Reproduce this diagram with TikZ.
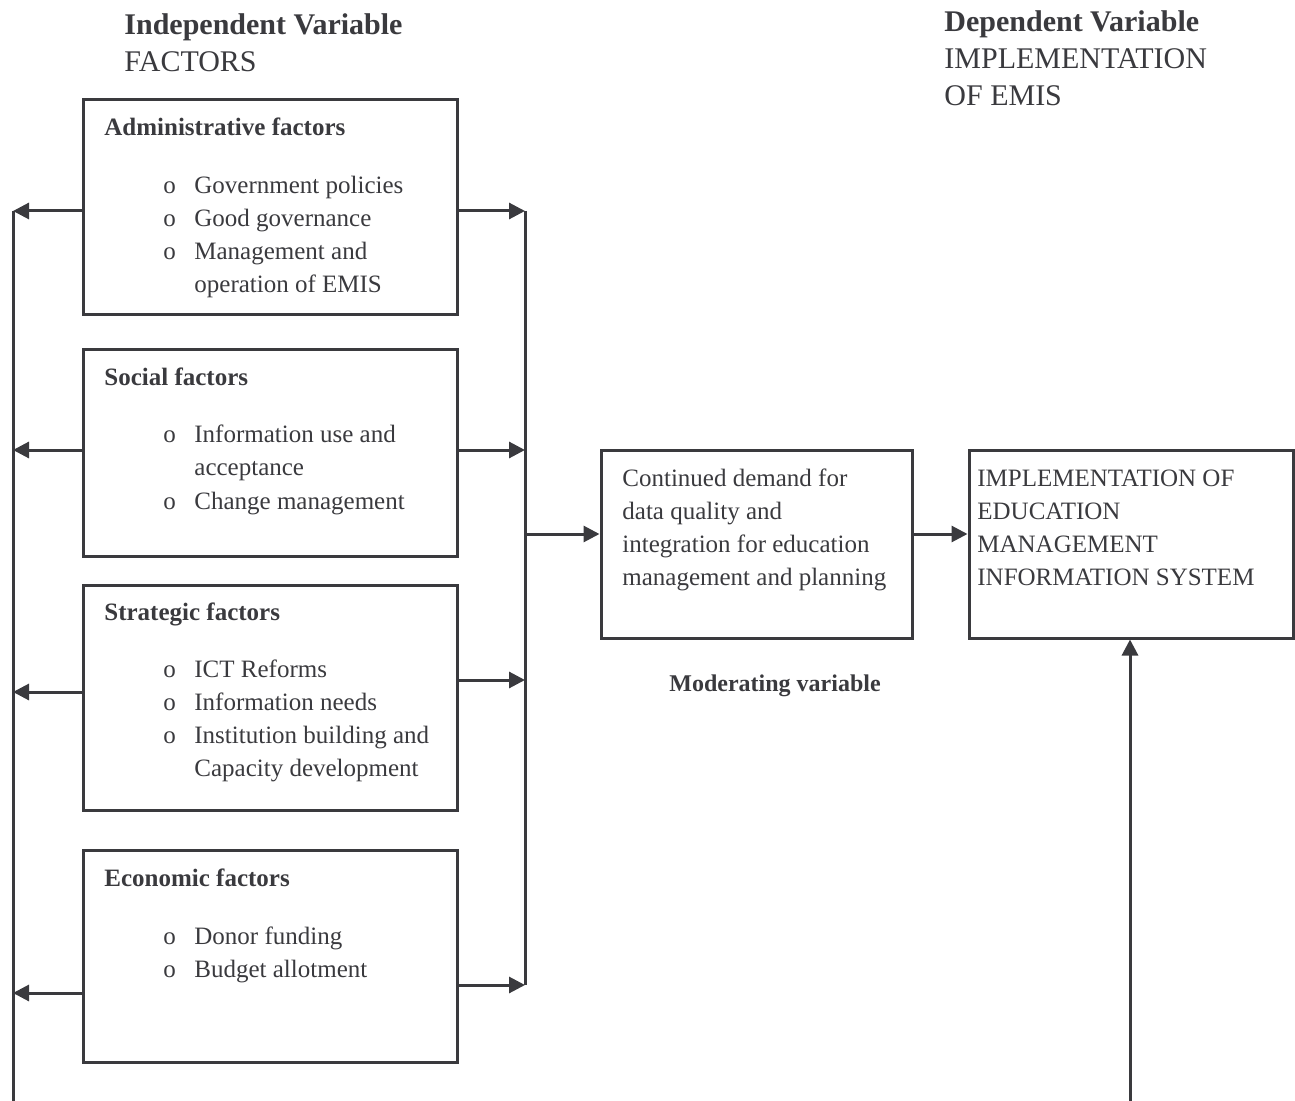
\documentclass[tikz,border=0pt]{standalone}
\usepackage{fontspec}
\setmainfont{Liberation Serif}
\usetikzlibrary{arrows.meta}
\usetikzlibrary{fit}
\usetikzlibrary{positioning}
\definecolor{ink}{RGB}{58,58,62}

\begin{document}
\begin{tikzpicture}[x=0.5pt,y=-0.5pt,
  box/.style={draw=ink,line width=1.5pt,inner sep=0pt},
  ln/.style={draw=ink,line width=1.5pt},
  arr/.style={ln,-{Triangle[length=8pt,width=8pt]}},
  txt/.style={anchor=base west,inner sep=0pt,align=left,text=ink,font=\fontsize{12.5}{16.5}\selectfont},
  lst/.style={anchor=base west,inner sep=0pt,text=ink,font=\fontsize{12.5}{16.5}\selectfont},
  heading/.style={txt,font=\fontsize{12.5}{16.5}\selectfont\bfseries},
  vartitle/.style={txt,font=\fontsize{15}{18.5}\selectfont}]
\useasboundingbox (0,0) rectangle (1295,1101);

\node[vartitle] (indep) at (124,72) {\textbf{Independent Variable}\\FACTORS};
\node[vartitle] (dep) at (944,106) {\textbf{Dependent Variable}\\IMPLEMENTATION\\OF EMIS};

\node[box,fit={(83,100) (457,315)}] (admin) {};
\node[box,fit={(83,350) (457,556)}] (social) {};
\node[box,fit={(83,585) (457,810)}] (strat) {};
\node[box,fit={(83,850) (457,1062)}] (econ) {};
\node[box,fit={(601,450) (912,638)}] (mod) {};
\node[box,fit={(969,450) (1293,638)}] (impl) {};

\node[heading] (adminhd) at (104,136) {Administrative factors};
\node[lst] (adminls) at (163,194) {\begin{tabular}[t]{@{}p{15.5pt}@{}l@{}}
  o & Government policies\\
  o & Good governance\\
  o & Management and\\
    & operation of EMIS
\end{tabular}};
\node[heading] (socialhd) at (104,386) {Social factors};
\node[lst] (socialls) at (163,443) {\begin{tabular}[t]{@{}p{15.5pt}@{}l@{}}
  o & Information use and\\
    & acceptance\\
  o & Change management
\end{tabular}};
\node[heading] (strathd) at (104,620) {Strategic factors};
\node[lst] (stratls) at (163,677) {\begin{tabular}[t]{@{}p{15.5pt}@{}l@{}}
  o & ICT Reforms\\
  o & Information needs\\
  o & Institution building and\\
    & Capacity development
\end{tabular}};
\node[heading] (econhd) at (104,886) {Economic factors};
\node[lst] (econls) at (163,944) {\begin{tabular}[t]{@{}p{15.5pt}@{}l@{}}
  o & Donor funding\\
  o & Budget allotment
\end{tabular}};

\node[txt] (modtxt) at (622,585) {Continued demand for\\data quality and\\integration for education\\management and planning};
\node[txt] (impltxt) at (977,585) {IMPLEMENTATION OF\\EDUCATION\\MANAGEMENT\\INFORMATION SYSTEM};
\node[txt,font=\fontsize{12}{14}\selectfont\bfseries] (modlbl) at (669,691) {Moderating variable};

\coordinate (l1) at (13,211);
\coordinate (l2) at (13,450);
\coordinate (l3) at (13,692);
\coordinate (l4) at (13,993);
\coordinate (lbot) at (13,1101);
\coordinate (r1) at (525,211);
\coordinate (r2) at (525,450);
\coordinate (r3) at (525,680);
\coordinate (r4) at (525,985);
\coordinate (rm) at (525,534);
\coordinate (bot) at (1130,1101);

\draw[ln] (l1) -- (lbot);
\draw[ln] (r1) -- (r4);
\draw[arr] (l1 -| admin.west) -- (l1);
\draw[arr] (l2 -| social.west) -- (l2);
\draw[arr] (l3 -| strat.west) -- (l3);
\draw[arr] (l4 -| econ.west) -- (l4);
\draw[arr] (r1 -| admin.east) -- (r1);
\draw[arr] (r2 -| social.east) -- (r2);
\draw[arr] (r3 -| strat.east) -- (r3);
\draw[arr] (r4 -| econ.east) -- (r4);
\draw[arr] (rm) -- (rm -| mod.west);
\draw[arr] (rm -| mod.east) -- (rm -| impl.west);
\draw[arr] (bot) -- (bot |- impl.south);
\end{tikzpicture}
\end{document}
